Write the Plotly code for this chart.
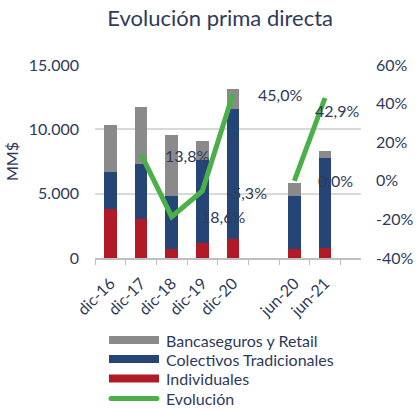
import plotly.graph_objects as go

categories = ["dic-16", "dic-17", "dic-18", "dic-19", "dic-20", " ", "jun-20", "jun-21"]
individuales = [3780, 3000, 675, 1140, 1500, None, 720, 750]
colectivos = [2870, 4290, 4160, 6460, 10060, None, 4115, 7035]
bancaseguros = [3670, 4450, 4735, 1480, 1610, None, 960, 495]
evolucion = [None, 13.8, -18.6, -5.3, 45.0, None, 0.0, 42.9]
evolucion_labels = [None, "13,8%", "-18,6%", "-5,3%", "45,0%", None, "0,0%", "42,9%"]

left_ticks = [0, 5000, 10000, 15000]
left_ticktext = ["0", "5.000", "10.000", "15.000"]
right_ticks = [-40, -20, 0, 20, 40, 60]
right_ticktext = ["-40%", "-20%", "0%", "20%", "40%", "60%"]

legend_names = ["Bancaseguros y Retail", "Colectivos Tradicionales", "Individuales", "Evolución"]

GRAY = "#8a8a8a"
BLUE = "#254577"
RED = "#b01b27"
GREEN = "#4cb04a"
TEXT = "#2e3a5c"
FONT = "Lato"

W, H = 417, 410
ML, MR, MT, MB = 95, 56, 65, 152
PW, PH = W - ML - MR, H - MT - MB


def px(xp):
    return (xp - ML) / PW


def py(yp):
    return (H - MB - yp) / PH


fig = go.Figure()
for name, vals, col in [("Individuales", individuales, RED),
                        ("Colectivos Tradicionales", colectivos, BLUE),
                        ("Bancaseguros y Retail", bancaseguros, GRAY)]:
    fig.add_trace(go.Bar(x=categories, y=vals, name=name, marker_color=col,
                         marker_line_width=0, showlegend=False))

fig.add_trace(go.Scatter(x=categories, y=evolucion, yaxis="y2", mode="lines",
                         line=dict(color=GREEN, width=5), showlegend=False,
                         connectgaps=False, name="Evolución"))

label_pos = {"13,8%": (22, -1), "-18,6%": (21, 0), "-5,3%": (22, -1),
             "45,0%": (23, -1), "0,0%": (22, 0), "42,9%": (-12, -12)}
for c, v, t in zip(categories, evolucion, evolucion_labels):
    if t is None:
        continue
    xs, ys = label_pos[t]
    fig.add_annotation(x=c, y=v, yref="y2", text=t, showarrow=False, xanchor="left",
                       yanchor="middle", xshift=xs, yshift=ys,
                       font=dict(family=FONT, size=16, color=TEXT))

# manual legend (symbols + text)
legend_colors = [GRAY, BLUE, RED, GREEN]
legend_rows = [340, 359, 378.5, 398.5]
for name, col, yrow in zip(legend_names, legend_colors, legend_rows):
    is_line = name == "Evolución"
    fig.add_shape(type="line", xref="paper", yref="paper",
                  x0=px(111 if is_line else 109), x1=px(157 if is_line else 159),
                  y0=py(yrow), y1=py(yrow),
                  line=dict(color=col, width=5 if is_line else 8))
    if is_line:
        for xc in (111, 157):
            fig.add_shape(type="circle", xref="paper", yref="paper",
                          x0=px(xc - 2.5), x1=px(xc + 2.5), y0=py(yrow - 2.5), y1=py(yrow + 2.5),
                          fillcolor=col, line_width=0)
    fig.add_annotation(xref="paper", yref="paper", x=px(164), y=py(yrow), text=name,
                       showarrow=False, xanchor="left", yanchor="middle",
                       font=dict(family=FONT, size=16, color=TEXT))

fig.update_layout(
    width=W, height=H,
    margin=dict(l=ML, r=MR, t=MT, b=MB, autoexpand=False),
    barmode="stack", bargap=0.58,
    plot_bgcolor="white", paper_bgcolor="white",
    showlegend=False,
    font=dict(family=FONT, size=16, color=TEXT),
    title=dict(text="Evolución prima directa", x=0.528, xanchor="center", y=0.955,
               yanchor="middle", font=dict(family=FONT, size=22, color=TEXT)),
    xaxis=dict(type="category", tickangle=-45, showline=True, linecolor="#bfbfbf",
               linewidth=1.5, ticks="outside", tickson="boundaries", ticklen=5,
               tickcolor="#bfbfbf", tickfont=dict(size=16, color=TEXT), automargin=False,
               ticklabelstandoff=8),
    yaxis=dict(range=[0, 15000], tickvals=left_ticks, ticktext=left_ticktext,
               showgrid=True, gridcolor="#d9d9d9", gridwidth=1.5, zeroline=False,
               title=dict(text="MM$", font=dict(size=16, color=TEXT), standoff=6),
               tickfont=dict(size=16, color=TEXT), automargin=False,
               ticklabelstandoff=15),
    yaxis2=dict(range=[-40, 60], tickvals=right_ticks, ticktext=right_ticktext,
                overlaying="y", side="right", showgrid=False, zeroline=False,
                tickfont=dict(size=16, color=TEXT), automargin=False,
                ticklabelstandoff=14),
)

fig.write_html("out.html", config={"displayModeBar": False},
               post_script="document.body.style.margin='0';document.body.style.overflow='hidden';")
